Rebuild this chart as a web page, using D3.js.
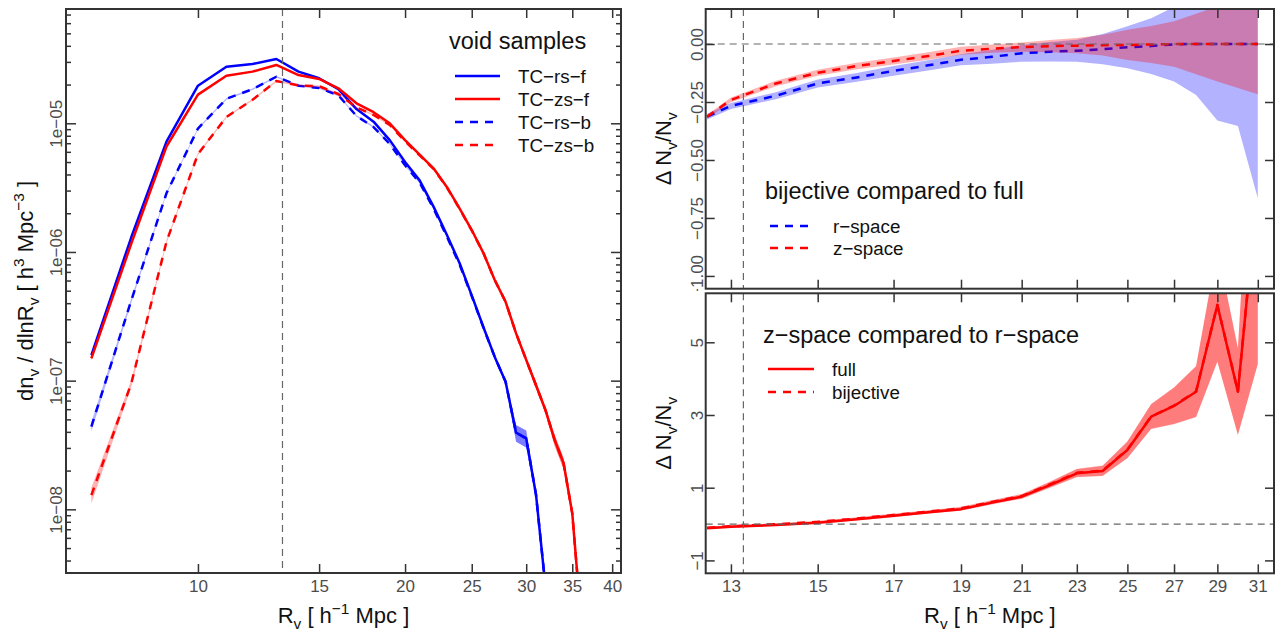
<!DOCTYPE html>
<html lang="en">
<head>
<meta charset="UTF-8">
<script src="https://d3js.org/d3.v7.min.js"></script>
<title>void size function</title>
<style>
  body { margin: 0; background: #fff; }
  svg text { font-family: "Liberation Sans", Arial, Helvetica, sans-serif; }
</style>
</head>
<body>
<div id="chart"></div>
<script>
// ---- left panel: void size function, R_v in h^-1 Mpc ----
var radius = [7, 8, 9, 10, 11, 12, 13, 14, 15, 16, 17, 18, 19, 20, 21, 22,
              23, 24, 25, 26, 27, 28, 29, 30, 31, 32, 33, 34, 35, 36];
var rsFull = [1.58e-7, 1.3e-6, 7.2e-6, 1.96e-5, 2.75e-5, 2.89e-5, 3.16e-5, 2.52e-5, 2.24e-5, 1.84e-5,
              1.29e-5, 1.03e-5, 7.4e-6, 5.0e-6, 3.6e-6, 2.25e-6, 1.36e-6, 8.2e-7, 4.6e-7, 2.6e-7,
              1.53e-7, 9.8e-8, 3.94e-8, 3.56e-8, 1.3e-8, 2.5e-9, null, null, null, null];
var zsFull = [1.49e-7, 1.16e-6, 6.6e-6, 1.67e-5, 2.34e-5, 2.52e-5, 2.84e-5, 2.37e-5, 2.21e-5, 1.87e-5,
              1.43e-5, 1.22e-5, 1.0e-5, 7.4e-6, 5.7e-6, 4.47e-6, 3.2e-6, 2.18e-6, 1.48e-6, 9.8e-7,
              6.05e-7, 4.1e-7, 2.33e-7, 1.45e-7, 9.2e-8, 5.9e-8, 3.45e-8, 2.28e-8, 9.3e-9, 1.5e-9];
var rsBij = [4.4e-8, 4.2e-7, 2.86e-6, 9.1e-6, 1.55e-5, 1.84e-5, 2.30e-5, 1.96e-5, 1.88e-5, 1.65e-5,
             1.14e-5, 9.35e-6, 6.9e-6, 4.72e-6, 3.46e-6, 2.18e-6, 1.32e-6, 8.0e-7, 4.54e-7, 2.58e-7,
             1.53e-7, 9.8e-8, 3.94e-8, 3.56e-8, 1.3e-8, 2.5e-9, null, null, null, null];
var zsBij = [1.29e-8, 9.5e-8, 1.2e-6, 5.77e-6, 1.12e-5, 1.52e-5, 2.13e-5, 1.97e-5, 1.94e-5, 1.69e-5,
             1.33e-5, 1.16e-5, 9.7e-6, 7.25e-6, 5.63e-6, 4.43e-6, 3.18e-6, 2.17e-6, 1.47e-6, 9.8e-7,
             6.05e-7, 4.1e-7, 2.33e-7, 1.45e-7, 9.2e-8, 5.9e-8, 3.45e-8, 2.28e-8, 9.3e-9, 1.5e-9];
// relative errors
var rsFullErr = [0.04, 0.02, 0.01, 0.01, 0.01, 0.01, 0.01, 0.01, 0.01, 0.01, 0.01, 0.01, 0.01, 0.012, 0.012,
                 0.015, 0.015, 0.02, 0.02, 0.025, 0.03, 0.04, 0.15, 0.15, 0.06, 0.1, null, null, null, null];
var zsFullErr = [0.04, 0.02, 0.01, 0.01, 0.01, 0.01, 0.01, 0.01, 0.01, 0.01, 0.01, 0.01, 0.01, 0.01, 0.012,
                 0.012, 0.015, 0.015, 0.02, 0.02, 0.025, 0.03, 0.04, 0.05, 0.06, 0.06, 0.1, 0.1, 0.08, 0.12];
var rsBijErr = [0.08, 0.04, 0.02, 0.015, 0.015, 0.015, 0.015, 0.015, 0.015, 0.015, 0.015, 0.015, 0.015, 0.015, 0.015,
                0.015, 0.015, 0.02, 0.02, 0.025, 0.03, 0.04, 0.15, 0.15, 0.06, 0.1, null, null, null, null];
var zsBijErr = [0.14, 0.06, 0.03, 0.02, 0.015, 0.015, 0.015, 0.015, 0.015, 0.015, 0.015, 0.015, 0.015, 0.015, 0.015,
                0.015, 0.015, 0.015, 0.02, 0.02, 0.025, 0.03, 0.04, 0.05, 0.06, 0.06, 0.1, 0.1, 0.08, 0.12];
var leftXTicks = [10, 15, 20, 25, 30, 35, 40];
var leftYTicks = [1e-8, 1e-7, 1e-6, 1e-5];

// ---- right panels: relative differences ----
var radiusR = [12.5, 13, 14, 15, 16, 17, 18, 19, 20, 21, 22, 23, 24, 25, 26, 27, 28, 29, 30, 31];
var rsDelta = [-0.313, -0.267, -0.223, -0.170, -0.144, -0.116, -0.092, -0.068, -0.055, -0.040,
               -0.033, -0.029, -0.022, -0.014, -0.009, -0.001, 0, 0, 0, 0];
var rsDeltaErr = [0.012, 0.013, 0.015, 0.017, 0.019, 0.021, 0.022, 0.024, 0.030, 0.036,
                  0.042, 0.047, 0.065, 0.091, 0.12, 0.161, 0.22, 0.33, 0.353, 0.665];
var zsDelta = [-0.313, -0.241, -0.170, -0.124, -0.095, -0.073, -0.052, -0.029, -0.020, -0.013,
               -0.009, -0.007, -0.005, -0.004, -0.002, 0, 0, 0, 0, 0];
var zsDeltaErr = [0.008, 0.01, 0.012, 0.013, 0.014, 0.015, 0.016, 0.017, 0.018, 0.02,
                  0.026, 0.033, 0.045, 0.065, 0.08, 0.098, 0.13, 0.162, 0.19, 0.217];
var zrFull = [-0.115, -0.073, -0.026, 0.037, 0.13, 0.23, 0.323, 0.41, 0.59, 0.752,
              1.07, 1.396, 1.459, 2.037, 2.953, 3.248, 3.641, 6.026, 3.641, 9.3];
var zrBij = [-0.10, -0.06, -0.005, 0.06, 0.15, 0.25, 0.34, 0.43, 0.61, 0.77,
             1.09, 1.41, 1.47, 2.05, 2.96, 3.26, 3.65, 6.03, 3.65, 9.3];
var zrErr = [0.03, 0.03, 0.03, 0.03, 0.035, 0.04, 0.04, 0.045, 0.05, 0.06,
             0.08, 0.11, 0.14, 0.23, 0.34, 0.5, 0.70, 1.56, 1.19, 4.9];
var rightXTicks = [13, 15, 17, 19, 21, 23, 25, 27, 29, 31];
var topYTicks = [0, -0.25, -0.5, -0.75, -1];
var botYTicks = [5, 3, 1, -1];
var radiusCut = 13.27;

var W = 1287, H = 634;
var svg = d3.select("#chart").append("svg").attr("width", W).attr("height", H);

var pL = {left: 66, right: 621, top: 9, bottom: 573};
var pT = {left: 705.7, right: 1274, top: 9, bottom: 288.7};
var pB = {left: 705.7, right: 1274, top: 293.3, bottom: 573.3};

var xL = d3.scaleLog().domain([6.43, 41.2]).range([pL.left, pL.right]);
var yL = d3.scaleLog().domain([3.2e-9, 7.73e-5]).range([pL.bottom, pL.top]);
var xR = d3.scaleLog().domain([12.47, 31.84]).range([pT.left, pT.right]);
var yT = d3.scaleLinear().domain([-1.055, 0.151]).range([pT.bottom, pT.top]);
var yB = d3.scaleLinear().domain([-1.355, 6.348]).range([pB.bottom, pB.top]);

var blue = "#0000ff", red = "#ff0000", frameCol = "#333", tickText = "#4d4d4d";
var tickFont = 17, titleFont = 22, legTitleFont = 23.5, legFont = 18.8;

function clipFor(id, p) {
  svg.append("clipPath").attr("id", id).append("rect")
    .attr("x", p.left).attr("y", p.top)
    .attr("width", p.right - p.left).attr("height", p.bottom - p.top);
  return svg.append("g").attr("clip-path", "url(#" + id + ")");
}

// band + line for one series; rel=true means errors are fractional
function drawSeries(g, xs, ys, errs, x, y, color, dashed, rel) {
  var pts = xs.map(function (r, i) { return {r: r, v: ys[i], e: errs[i]}; })
    .filter(function (d) { return d.v != null; });
  var area = d3.area()
    .x(function (d) { return x(d.r); })
    .y0(function (d) { return y(rel ? d.v * (1 - d.e) : d.v - d.e); })
    .y1(function (d) { return y(rel ? d.v * (1 + d.e) : d.v + d.e); });
  g.append("path").datum(pts).attr("d", area)
    .attr("fill", color).attr("fill-opacity", 0.3).attr("stroke", "none");
  g.append("path").datum(pts)
    .attr("d", d3.line().x(function (d) { return x(d.r); }).y(function (d) { return y(d.v); }))
    .attr("fill", "none").attr("stroke", color).attr("stroke-width", 2.5)
    .attr("stroke-linejoin", "round")
    .attr("stroke-dasharray", dashed ? "8,7" : null);
}

function refLine(g, x1, y1, x2, y2) {
  g.append("line").attr("x1", x1).attr("y1", y1).attr("x2", x2).attr("y2", y2)
    .attr("stroke", "#666").attr("stroke-width", 1.2).attr("stroke-dasharray", "7,5");
}

function styleAxis(g) {
  g.select(".domain").remove();
  g.selectAll(".tick line").attr("stroke", frameCol).attr("stroke-width", 1.5);
  g.selectAll(".tick text").attr("fill", tickText).attr("font-size", tickFont)
    .style("font-family", '"Liberation Sans", Arial, sans-serif');
}

function rotateYLabels(g, gap) {
  g.selectAll(".tick text").attr("transform", "rotate(-90)")
    .attr("x", 0).attr("y", -gap).attr("dy", 0).attr("text-anchor", "middle");
}

function frame(p) {
  svg.append("rect").attr("x", p.left).attr("y", p.top)
    .attr("width", p.right - p.left).attr("height", p.bottom - p.top)
    .attr("fill", "none").attr("stroke", frameCol).attr("stroke-width", 2);
}

function rich(t, parts, fs) {
  var off = 0;
  parts.forEach(function (p) {
    var target = p[1] === "sub" ? 0.28 * fs : p[1] === "sup" ? -0.42 * fs : 0;
    var s = t.append("tspan").text(p[0]).attr("dy", target - off);
    if (p[1]) s.attr("font-size", fs * 0.7);
    off = target;
  });
}

function legend(xTitle, x0, x1, xText, title, titleY, items) {
  svg.append("text").attr("x", xTitle).attr("y", titleY).attr("font-size", legTitleFont)
    .attr("fill", "#111").text(title);
  items.forEach(function (it) {
    svg.append("line").attr("x1", x0).attr("x2", x1).attr("y1", it.y).attr("y2", it.y)
      .attr("stroke", it.color).attr("stroke-width", 2.5)
      .attr("stroke-dasharray", it.dashed ? "8,7" : null);
    svg.append("text").attr("x", xText).attr("y", it.y + 6.5).attr("font-size", legFont)
      .attr("fill", "#111").text(it.label);
  });
}

// ================= left panel =================
var gL = clipFor("clipL", pL);
drawSeries(gL, radius, rsFull, rsFullErr, xL, yL, blue, false, true);
drawSeries(gL, radius, zsFull, zsFullErr, xL, yL, red, false, true);
drawSeries(gL, radius, rsBij, rsBijErr, xL, yL, blue, true, true);
drawSeries(gL, radius, zsBij, zsBijErr, xL, yL, red, true, true);
refLine(gL, xL(radiusCut), pL.top, xL(radiusCut), pL.bottom);

var minorL = [];
[-9, -8, -7, -6, -5].forEach(function (e) {
  for (var k = 2; k <= 9; k++) {
    var v = k * Math.pow(10, e);
    if (v > yL.domain()[0] && v < yL.domain()[1]) minorL.push(v);
  }
});
var fmtE = function (d) {
  return "1e\u2212" + String(-Math.round(Math.log10(d))).padStart(2, "0");
};

var ax;
ax = svg.append("g").attr("transform", "translate(0," + pL.bottom + ")")
  .call(d3.axisBottom(xL).tickValues(leftXTicks).tickFormat(d3.format("d")).tickSize(-9).tickPadding(7));
styleAxis(ax);
ax = svg.append("g").attr("transform", "translate(0," + pL.top + ")")
  .call(d3.axisTop(xL).tickValues(leftXTicks).tickFormat("").tickSize(-9));
styleAxis(ax);
ax = svg.append("g").attr("transform", "translate(" + pL.left + ",0)")
  .call(d3.axisLeft(yL).tickValues(leftYTicks).tickFormat(fmtE).tickSize(-10).tickPadding(4));
styleAxis(ax); rotateYLabels(ax, 4);
ax = svg.append("g").attr("transform", "translate(" + pL.left + ",0)")
  .call(d3.axisLeft(yL).tickValues(minorL).tickFormat("").tickSize(-5));
styleAxis(ax);
ax = svg.append("g").attr("transform", "translate(" + pL.right + ",0)")
  .call(d3.axisRight(yL).tickValues(leftYTicks).tickFormat("").tickSize(-10));
styleAxis(ax);
ax = svg.append("g").attr("transform", "translate(" + pL.right + ",0)")
  .call(d3.axisRight(yL).tickValues(minorL).tickFormat("").tickSize(-5));
styleAxis(ax);
frame(pL);

legend(449, 455, 500, 518, "void samples", 49, [
  {label: "TC\u2212rs\u2212f", y: 76, color: blue, dashed: false},
  {label: "TC\u2212zs\u2212f", y: 99, color: red, dashed: false},
  {label: "TC\u2212rs\u2212b", y: 122, color: blue, dashed: true},
  {label: "TC\u2212zs\u2212b", y: 145, color: red, dashed: true}
]);

var t = svg.append("text").attr("x", (pL.left + pL.right) / 2).attr("y", 623)
  .attr("text-anchor", "middle").attr("font-size", titleFont).attr("fill", "#111");
rich(t, [["R"], ["v", "sub"], [" [ h"], ["\u22121", "sup"], [" Mpc ]"]], titleFont);

t = svg.append("text").attr("transform", "translate(33," + (pL.top + pL.bottom) / 2 + ") rotate(-90)")
  .attr("text-anchor", "middle").attr("font-size", titleFont).attr("fill", "#111");
rich(t, [["dn"], ["v", "sub"], [" / dlnR"], ["v", "sub"], [" [ h"], ["3", "sup"], [" Mpc"], ["\u22123", "sup"], [" ]"]], titleFont);

// ================= right top panel =================
var gT = clipFor("clipT", pT);
drawSeries(gT, radiusR, rsDelta, rsDeltaErr, xR, yT, blue, true, false);
drawSeries(gT, radiusR, zsDelta, zsDeltaErr, xR, yT, red, true, false);
refLine(gT, pT.left, yT(0), pT.right, yT(0));
refLine(gT, xR(radiusCut), pT.top, xR(radiusCut), pT.bottom);

svg.append("clipPath").attr("id", "clipTLab").append("rect")
  .attr("x", 600).attr("y", 0).attr("width", 120).attr("height", 291);
ax = svg.append("g").attr("clip-path", "url(#clipTLab)").append("g")
  .attr("transform", "translate(" + pT.left + ",0)")
  .call(d3.axisLeft(yT).tickValues(topYTicks).tickFormat(d3.format(".2f")).tickSize(-9).tickPadding(3));
styleAxis(ax); rotateYLabels(ax, 3);
ax = svg.append("g").attr("transform", "translate(" + pT.right + ",0)")
  .call(d3.axisRight(yT).tickValues(topYTicks).tickFormat("").tickSize(-9));
styleAxis(ax);
ax = svg.append("g").attr("transform", "translate(0," + pT.top + ")")
  .call(d3.axisTop(xR).tickValues(rightXTicks).tickFormat("").tickSize(-9));
styleAxis(ax);
ax = svg.append("g").attr("transform", "translate(0," + pT.bottom + ")")
  .call(d3.axisBottom(xR).tickValues(rightXTicks).tickFormat("").tickSize(-9));
styleAxis(ax);
frame(pT);

legend(765, 770, 813, 833, "bijective compared to full", 199, [
  {label: "r\u2212space", y: 226, color: blue, dashed: true},
  {label: "z\u2212space", y: 248, color: red, dashed: true}
]);

t = svg.append("text").attr("transform", "translate(671," + (pT.top + pT.bottom) / 2 + ") rotate(-90)")
  .attr("text-anchor", "middle").attr("font-size", titleFont).attr("fill", "#111");
rich(t, [["\u0394 N"], ["v", "sub"], ["/N"], ["v", "sub"]], titleFont);

// ================= right bottom panel =================
var gB = clipFor("clipB", pB);
drawSeries(gB, radiusR, zrFull, zrErr, xR, yB, red, false, false);
drawSeries(gB, radiusR, zrBij, zrErr, xR, yB, red, true, false);
refLine(gB, pB.left, yB(0), pB.right, yB(0));
refLine(gB, xR(radiusCut), pB.top, xR(radiusCut), pB.bottom);

ax = svg.append("g").attr("transform", "translate(" + pB.left + ",0)")
  .call(d3.axisLeft(yB).tickValues(botYTicks).tickFormat(d3.format("d")).tickSize(-9).tickPadding(3));
styleAxis(ax); rotateYLabels(ax, 3);
ax = svg.append("g").attr("transform", "translate(" + pB.right + ",0)")
  .call(d3.axisRight(yB).tickValues(botYTicks).tickFormat("").tickSize(-9));
styleAxis(ax);
ax = svg.append("g").attr("transform", "translate(0," + pB.top + ")")
  .call(d3.axisTop(xR).tickValues(rightXTicks).tickFormat("").tickSize(-9));
styleAxis(ax);
ax = svg.append("g").attr("transform", "translate(0," + pB.bottom + ")")
  .call(d3.axisBottom(xR).tickValues(rightXTicks).tickFormat(d3.format("d")).tickSize(-9).tickPadding(7));
styleAxis(ax);
frame(pB);

legend(763, 768, 814, 832, "z\u2212space compared to r\u2212space", 343, [
  {label: "full", y: 369, color: red, dashed: false},
  {label: "bijective", y: 392, color: red, dashed: true}
]);

t = svg.append("text").attr("transform", "translate(671," + (pB.top + pB.bottom) / 2 + ") rotate(-90)")
  .attr("text-anchor", "middle").attr("font-size", titleFont).attr("fill", "#111");
rich(t, [["\u0394 N"], ["v", "sub"], ["/N"], ["v", "sub"]], titleFont);

t = svg.append("text").attr("x", (pB.left + pB.right) / 2).attr("y", 623)
  .attr("text-anchor", "middle").attr("font-size", titleFont).attr("fill", "#111");
rich(t, [["R"], ["v", "sub"], [" [ h"], ["\u22121", "sup"], [" Mpc ]"]], titleFont);
</script>
</body>
</html>
